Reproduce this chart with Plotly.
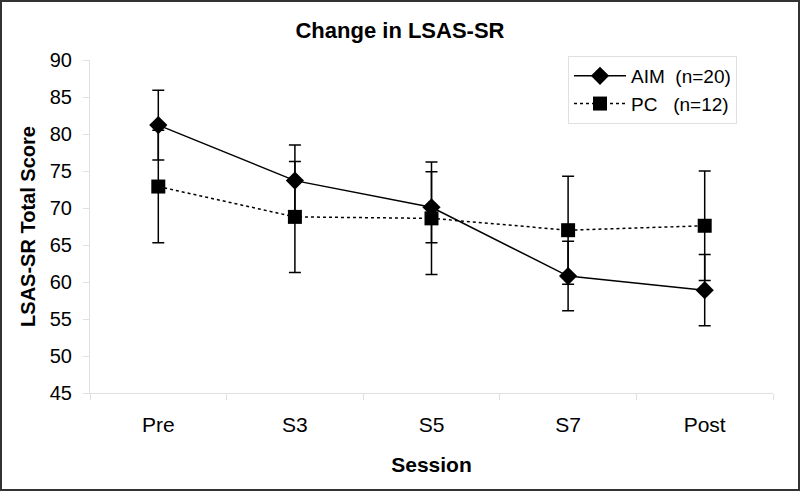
import plotly.graph_objects as go

sessions = ["Pre", "S3", "S5", "S7", "Post"]
aim_mean = [81.2, 73.7, 70.1, 60.8, 58.9]
aim_err = [4.7, 4.8, 4.8, 4.7, 4.8]
pc_mean = [72.9, 68.8, 68.6, 67.0, 67.6]
pc_err = [7.6, 7.5, 7.6, 7.3, 7.4]
y_ticks = [45, 50, 55, 60, 65, 70, 75, 80, 85, 90]

W, H = 800, 491
L, R, T, B = 90, 27, 60, 98
pw, ph = W - L - R, H - T - B

font = "Liberation Sans, Arial, sans-serif"

fig = go.Figure()
fig.add_trace(go.Scatter(
    x=sessions, y=aim_mean, name="AIM\u00a0\u00a0(n=20)", mode="lines+markers",
    line=dict(color="black", width=1.5),
    marker=dict(symbol="diamond", size=14, color="black"),
    error_y=dict(type="data", array=aim_err, visible=True, color="black", thickness=1.5, width=6),
))
fig.add_trace(go.Scatter(
    x=sessions, y=pc_mean, name="PC\u00a0\u00a0\u00a0(n=12)", mode="lines+markers",
    line=dict(color="black", width=1.5, dash="dot"),
    marker=dict(symbol="square", size=14, color="black"),
    error_y=dict(type="data", array=pc_err, visible=True, color="black", thickness=1.5, width=6),
))

fig.update_layout(
    width=W, height=H,
    margin=dict(l=L, r=R, t=T, b=B),
    paper_bgcolor="white", plot_bgcolor="white",
    font=dict(family=font, size=20, color="black"),
    title=dict(text="<b>Change in LSAS-SR</b>", x=0.5, xanchor="center",
               y=1 - 30 / H, yanchor="middle", font=dict(size=22)),
    showlegend=True,
    legend=dict(x=(568 - L) / pw, y=1 + (T - 56) / ph, xanchor="left", yanchor="top",
                bordercolor="#e0e0e0", borderwidth=1, bgcolor="white",
                font=dict(size=19), tracegroupgap=0, itemwidth=52),
    xaxis=dict(
        range=[-0.5, 4.5], showgrid=False, zeroline=False,
        showline=True, linecolor="#e0e0e0", linewidth=1,
        ticks="outside", tickson="boundaries", tickcolor="#e0e0e0", ticklen=6,
        tickfont=dict(size=21), ticklabelstandoff=13,
        title=dict(text="<b>Session</b>", font=dict(size=21), standoff=22),
    ),
    yaxis=dict(
        range=[45, 90], tickvals=y_ticks, showgrid=False, zeroline=False,
        showline=True, linecolor="#e0e0e0", linewidth=1,
        ticks="outside", tickcolor="#e0e0e0", ticklen=6,
        tickfont=dict(size=20), ticklabelstandoff=7,
        title=dict(text="<b>LSAS-SR Total Score</b>", font=dict(size=20), standoff=8),
    ),
    shapes=[dict(type="rect", xref="paper", yref="paper",
                 x0=(1 - L) / pw, x1=1 + (R - 1) / pw,
                 y0=-(B - 1) / ph, y1=1 + (T - 1) / ph,
                 line=dict(color="#333333", width=2), fillcolor="rgba(0,0,0,0)")],
)

fig.write_html("out.html", config={"displayModeBar": False},
               post_script="document.body.style.margin='0';document.body.style.overflow='hidden';")
